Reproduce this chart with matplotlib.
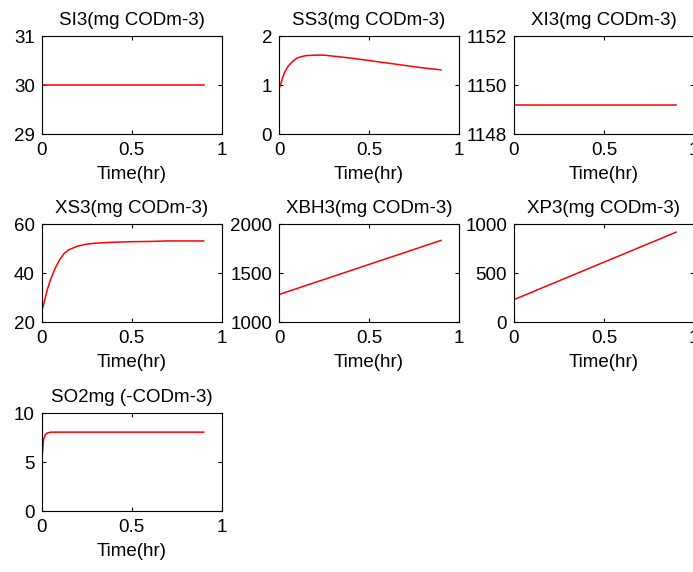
import matplotlib
matplotlib.use("Agg")
import matplotlib.pyplot as plt

# time samples (hr)
t = [0, 0.01, 0.02, 0.03, 0.05, 0.075, 0.1, 0.125, 0.15, 0.2, 0.25, 0.3,
     0.4, 0.5, 0.6, 0.7, 0.8, 0.9]

si3 = [30.0] * len(t)
ss3 = [0.92, 1.02, 1.15, 1.25, 1.38, 1.48, 1.55, 1.58, 1.60, 1.61, 1.61, 1.59,
       1.55, 1.50, 1.45, 1.40, 1.35, 1.31]
xi3 = [1149.2] * len(t)
xs3 = [24.5, 27, 30, 33, 37.5, 42, 45.5, 48, 49.5, 51, 51.8, 52.2,
       52.6, 52.8, 52.9, 53.1, 53.1, 53.1]
xbh3 = [1281, 1287, 1293, 1299, 1312, 1327, 1342, 1358, 1373, 1404, 1434, 1465,
        1526, 1588, 1649, 1710, 1772, 1833]
xp3 = [229, 237, 244, 252, 267, 286, 305, 325, 344, 382, 420, 458,
       535, 611, 687, 764, 840, 917]
so2 = [5.05, 7.3, 7.8, 7.95, 8.05, 8.05, 8.05, 8.05, 8.05, 8.05, 8.05, 8.05,
       8.05, 8.05, 8.05, 8.05, 8.05, 8.05]

titles = ["SI3(mg CODm-3)", "SS3(mg CODm-3)", "XI3(mg CODm-3)",
          "XS3(mg CODm-3)", "XBH3(mg CODm-3)", "XP3(mg CODm-3)",
          "SO2mg (-CODm-3)"]
series = [si3, ss3, xi3, xs3, xbh3, xp3, so2]
ylims = [(29, 31), (0, 2), (1148, 1152), (20, 60), (1000, 2000), (0, 1000), (0, 10)]
yticks = [[29, 30, 31], [0, 1, 2], [1148, 1150, 1152], [20, 40, 60],
          [1000, 1500, 2000], [0, 500, 1000], [0, 5, 10]]

plt.rcParams['font.family'] = ['Liberation Sans', 'DejaVu Sans']
plt.rcParams['font.size'] = 13.5

fig = plt.figure(figsize=(6.93, 5.72), dpi=100)

lefts = [0.0602, 0.4026, 0.7417]
bottoms = [0.7657, 0.437, 0.1066]
w, h = 0.2597, 0.1713

for i in range(7):
    r, c = divmod(i, 3)
    ax = fig.add_axes([lefts[c], bottoms[r], w, h])
    ax.plot(t, series[i], color='red', linewidth=1.1)
    ax.set_xlim(0, 1)
    ax.set_ylim(*ylims[i])
    ax.set_xticks([0, 0.5, 1])
    ax.set_xticklabels(['0', '0.5', '1'])
    ax.set_yticks(yticks[i])
    ax.tick_params(direction='in', top=True, right=True, length=3, width=0.8)
    ax.tick_params(axis='x', pad=6)
    ax.tick_params(axis='y', pad=5)
    for s in ax.spines.values():
        s.set_linewidth(0.8)
    ax.set_title(titles[i], fontsize=13.5, pad=8)
    ax.set_xlabel("Time(hr)", fontsize=13.5, labelpad=5)

fig.savefig("out.png", dpi=100)
